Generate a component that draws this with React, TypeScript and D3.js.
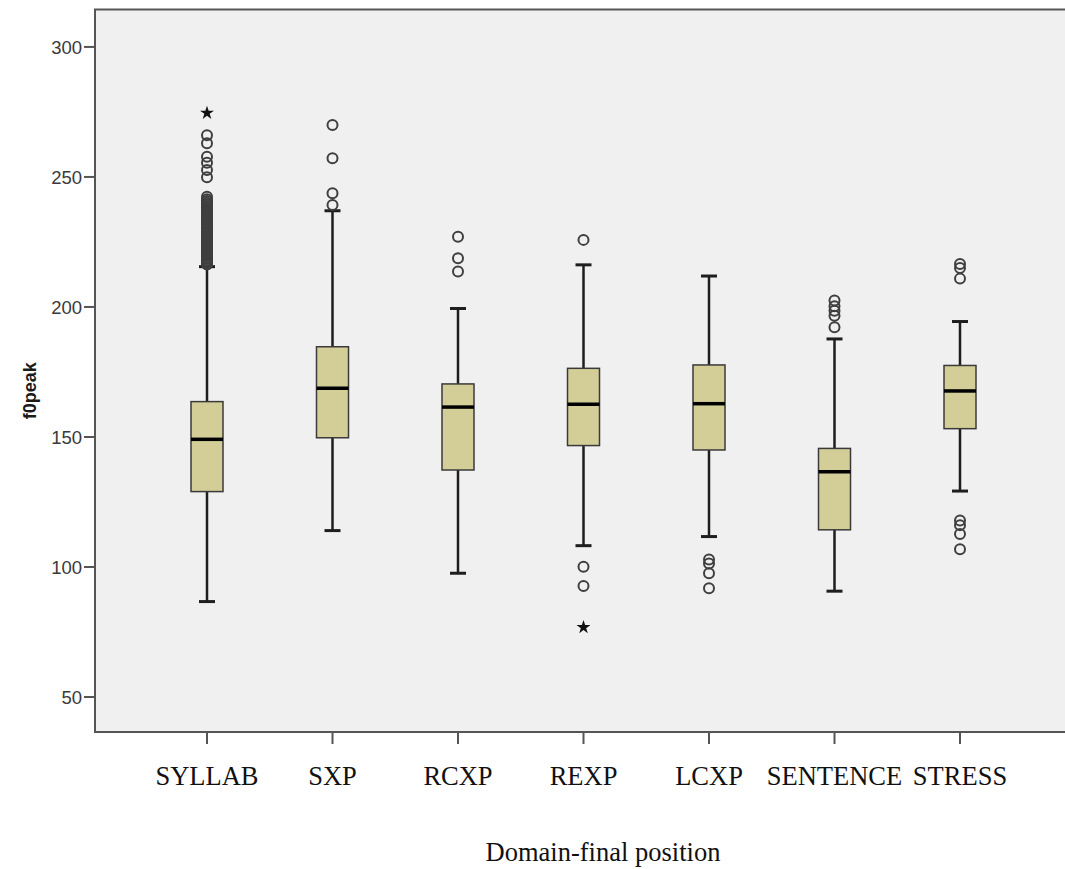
import React from "react";
import * as d3 from "d3";

// Domain-final position categories and f0peak box statistics (Hz)
const categories = ["SYLLAB", "SXP", "RCXP", "REXP", "LCXP", "SENTENCE", "STRESS"];
const lowerWhisker = [86.7, 114.0, 97.6, 108.2, 111.7, 90.7, 129.2];
const q1 = [129.0, 149.7, 137.3, 146.7, 145.0, 114.3, 153.2];
const median = [149.1, 168.7, 161.5, 162.6, 162.8, 136.6, 167.7];
const q3 = [163.6, 184.7, 170.4, 176.4, 177.7, 145.6, 177.5];
const upperWhisker = [215.5, 237.0, 199.4, 216.2, 211.9, 187.7, 194.4];

// Outliers (circles) and extreme values (stars) per category
const outliers: number[][] = [
  [
    216.3, 216.8, 217.2, 217.9, 218.4, 219.0, 219.6, 220.1, 220.7, 221.3, 221.8, 222.5,
    223.0, 223.6, 224.2, 224.9, 225.4, 226.0, 226.7, 227.2, 227.9, 228.5, 229.1, 229.8,
    230.4, 231.0, 231.7, 232.3, 233.0, 233.6, 234.3, 234.9, 235.6, 236.2, 236.9, 237.5,
    238.2, 238.8, 239.5, 240.1, 240.8, 241.4, 242.4, 249.9, 252.7, 255.5, 257.8, 263.0,
    266.0,
  ],
  [239.2, 243.7, 257.2, 270.0],
  [213.6, 218.7, 227.0],
  [92.7, 100.1, 225.8],
  [91.8, 97.6, 101.3, 102.9],
  [192.2, 196.6, 198.5, 200.3, 202.5],
  [106.8, 112.7, 116.1, 117.9, 210.9, 215.0, 216.5],
];
const extremes: number[][] = [[274.6], [], [], [76.8], [], [], []];

const yTicks = [50, 100, 150, 200, 250, 300];

const W = 1065;
const H = 869;
const frame = { left: 95, top: 9.5, bottom: 732, right: 1075 };

export default function App() {
  const y = d3.scaleLinear().domain([36.54, 314.4]).range([frame.bottom, frame.top]);
  const x = d3.scalePoint<string>().domain(categories).range([207, 960]);
  const boxW = 32;
  const capW = 16;
  const star = d3.symbol().type(d3.symbolStar).size(60)();

  return (
    <svg
      width={W}
      height={H}
      style={{ position: "absolute", left: 0, top: 0, background: "#ffffff" }}
    >
      <rect
        x={frame.left}
        y={frame.top}
        width={frame.right - frame.left}
        height={frame.bottom - frame.top}
        fill="#f0f0f0"
        stroke="#555555"
        strokeWidth={2}
      />

      {/* y axis ticks */}
      {yTicks.map((t) => (
        <g key={t}>
          <line
            x1={frame.left - 11}
            x2={frame.left}
            y1={y(t)}
            y2={y(t)}
            stroke="#555555"
            strokeWidth={2}
          />
          <text
            x={frame.left - 13}
            y={y(t)}
            dy="0.36em"
            textAnchor="end"
            fontFamily="Liberation Sans, Arial, sans-serif"
            fontSize={18.5}
            fill="#3a3a3a"
          >
            {t}
          </text>
        </g>
      ))}

      <text
        transform={`translate(36, ${(frame.top + frame.bottom) / 2 + 20}) rotate(-90)`}
        textAnchor="middle"
        fontFamily="Liberation Sans, Arial, sans-serif"
        fontWeight="bold"
        fontSize={18}
        fill="#1a1a1a"
      >
        f0peak
      </text>

      {/* x axis ticks and labels */}
      {categories.map((c) => (
        <g key={c}>
          <line
            x1={x(c)}
            x2={x(c)}
            y1={frame.bottom}
            y2={frame.bottom + 12}
            stroke="#555555"
            strokeWidth={2}
          />
          <text
            x={x(c)}
            y={785}
            textAnchor="middle"
            fontFamily="Liberation Serif, Times New Roman, serif"
            fontSize={26.5}
            fill="#111111"
          >
            {c}
          </text>
        </g>
      ))}

      <text
        x={603}
        y={861}
        textAnchor="middle"
        fontFamily="Liberation Serif, Times New Roman, serif"
        fontSize={26.5}
        fill="#111111"
      >
        Domain-final position
      </text>

      {/* boxes */}
      {categories.map((c, i) => {
        const cx = x(c) as number;
        return (
          <g key={c}>
            <line x1={cx} x2={cx} y1={y(upperWhisker[i])} y2={y(q3[i])} stroke="#1e1e1e" strokeWidth={2.5} />
            <line x1={cx} x2={cx} y1={y(q1[i])} y2={y(lowerWhisker[i])} stroke="#1e1e1e" strokeWidth={2.5} />
            <line
              x1={cx - capW / 2}
              x2={cx + capW / 2}
              y1={y(upperWhisker[i])}
              y2={y(upperWhisker[i])}
              stroke="#1e1e1e"
              strokeWidth={3}
            />
            <line
              x1={cx - capW / 2}
              x2={cx + capW / 2}
              y1={y(lowerWhisker[i])}
              y2={y(lowerWhisker[i])}
              stroke="#1e1e1e"
              strokeWidth={3}
            />
            <rect
              x={cx - boxW / 2}
              y={y(q3[i])}
              width={boxW}
              height={y(q1[i]) - y(q3[i])}
              fill="#d3ce97"
              stroke="#3a3a3a"
              strokeWidth={1.5}
            />
            <line
              x1={cx - boxW / 2}
              x2={cx + boxW / 2}
              y1={y(median[i])}
              y2={y(median[i])}
              stroke="#000000"
              strokeWidth={3.5}
            />
            {outliers[i].map((v, k) => (
              <circle
                key={k}
                cx={cx}
                cy={y(v)}
                r={5}
                fill="none"
                stroke="#3f3f3f"
                strokeWidth={2}
              />
            ))}
            {extremes[i].map((v, k) => (
              <path key={k} d={star || ""} transform={`translate(${cx}, ${y(v)})`} fill="#111111" />
            ))}
          </g>
        );
      })}
    </svg>
  );
}
